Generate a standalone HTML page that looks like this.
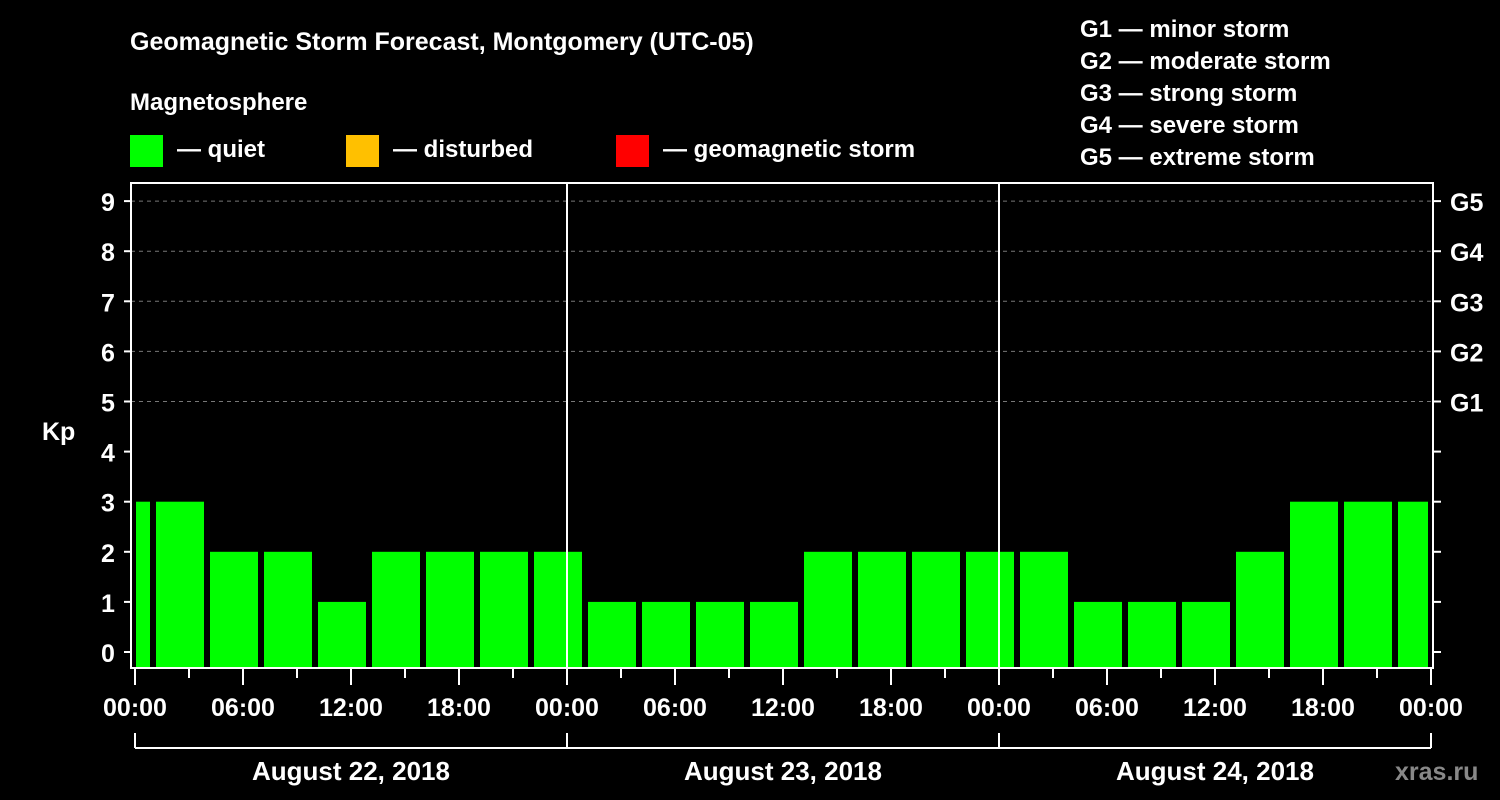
<!DOCTYPE html>
<html><head><meta charset="utf-8"><style>
html,body{margin:0;padding:0;background:#000;width:1500px;height:800px;overflow:hidden}
svg text{font-family:"Liberation Sans",Arial,sans-serif;font-weight:bold;fill:#fff}
</style></head><body>
<svg id="chart" width="1500" height="800" xmlns="http://www.w3.org/2000/svg">
<rect x="0" y="0" width="1500" height="800" fill="#000"/>
<text x="130" y="50" font-size="25">Geomagnetic Storm Forecast, Montgomery (UTC-05)</text>
<text x="130" y="110" font-size="24">Magnetosphere</text>
<rect x="130" y="135" width="33" height="32" fill="#00ff00"/>
<text x="177" y="157" font-size="24">— quiet</text>
<rect x="346" y="135" width="33" height="32" fill="#ffc000"/>
<text x="393" y="157" font-size="24">— disturbed</text>
<rect x="616" y="135" width="33" height="32" fill="#ff0000"/>
<text x="663" y="157" font-size="24">— geomagnetic storm</text>
<g font-size="24">
<text x="1080" y="37">G1 — minor storm</text>
<text x="1080" y="69">G2 — moderate storm</text>
<text x="1080" y="101">G3 — strong storm</text>
<text x="1080" y="133">G4 — severe storm</text>
<text x="1080" y="165">G5 — extreme storm</text>
</g>
<text x="42" y="440" font-size="25">Kp</text>
<text x="1395" y="780" font-size="25" style="fill:#888">xras.ru</text>
<g id="plot"></g>
</svg>
<script>
// data
const kpValues = [3,3,2,2,1,2,2,2,2,1,1,1,1,2,2,2,2,2,1,1,1,2,3,3,3];
const dayLabels = ["August 22, 2018","August 23, 2018","August 24, 2018"];
const hourLabels = ["00:00","06:00","12:00","18:00"];
const yTicks = [0,1,2,3,4,5,6,7,8,9];
const gLevels = ["G1","G2","G3","G4","G5"];
const gKp = [5,6,7,8,9];
const firstBarStartHour = -2; // local hour of first 3h period start
</script>
<script>
const NS="http://www.w3.org/2000/svg";
const g=document.getElementById('plot');
const X0=135, PXH=18, L=131, R=1433, T=183, B=668;
const xs=h=>X0+h*PXH;
const ys=v=>652-v*50.1;
function el(t,a,parent){const e=document.createElementNS(NS,t);for(const k in a)e.setAttribute(k,a[k]);(parent||g).appendChild(e);return e;}
const totalH=dayLabels.length*24;
// grid
gKp.forEach((v,i)=>{
 const l=el('line',{x1:L,x2:R,y1:ys(v),y2:ys(v),stroke:'#777','stroke-dasharray':'4,4','stroke-width':1});
 
 
 const t=el('text',{x:1450,y:ys(v)+10,'font-size':25});t.textContent=gLevels[i];
 
 
});
// bars
kpValues.forEach((v,i)=>{
 let s=xs(firstBarStartHour+i*3)+3, e=xs(firstBarStartHour+i*3+3)-3;
 s=Math.max(s,xs(0)+1); e=Math.min(e,xs(totalH)-3);
 if(e<=s)return;
 const c=v>=5?'#ff0000':(v>=4?'#ffc000':'#00ff00');
 const r=el('rect',{x:s,y:ys(v),width:e-s,height:B-ys(v),fill:c});
 
 
});
// day separators
for(let d=1;d<dayLabels.length;d++){
 const l=el('line',{x1:xs(d*24),x2:xs(d*24),y1:T,y2:B,stroke:'#fff','stroke-width':2});
 
 
}
// frame
const f=el('rect',{x:L,y:T,width:R-L,height:B-T,fill:'none',stroke:'#fff','stroke-width':2});


// y ticks
yTicks.forEach(v=>{
 el('line',{x1:124,x2:L,y1:ys(v),y2:ys(v),stroke:'#fff','stroke-width':2});
 el('line',{x1:R,x2:1441,y1:ys(v),y2:ys(v),stroke:'#fff','stroke-width':2});
 const t=el('text',{x:108,y:ys(v)+10,'font-size':25,'text-anchor':'middle'});t.textContent=v;
 
 
});
// x ticks
for(let h=0;h<=totalH;h+=3){
 const major=h%6===0;
 el('line',{x1:xs(h),x2:xs(h),y1:B,y2:major?685:678,stroke:'#fff','stroke-width':2});
 if(major){
  const t=el('text',{x:xs(h),y:716,'font-size':25,'text-anchor':'middle'});
  t.textContent=hourLabels[(h/6)%4];
  
  
 }
}
// date bracket
el('line',{x1:xs(0),x2:xs(totalH),y1:748,y2:748,stroke:'#fff','stroke-width':2});
for(let d=0;d<=dayLabels.length;d++)el('line',{x1:xs(d*24),x2:xs(d*24),y1:733,y2:748,stroke:'#fff','stroke-width':2});
dayLabels.forEach((s,d)=>{
 const t=el('text',{x:xs(d*24+12),y:780,'font-size':26,'text-anchor':'middle'});t.textContent=s;
 
 
});
</script>
</body></html>
